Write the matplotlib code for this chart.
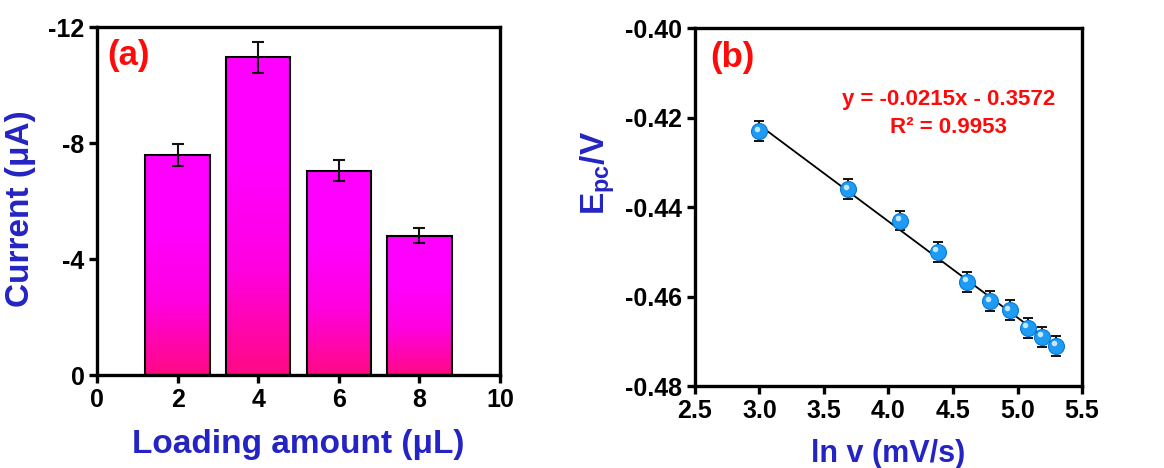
import numpy as np
import matplotlib
matplotlib.use("Agg")
import matplotlib.pyplot as plt
from matplotlib.colors import LinearSegmentedColormap
from matplotlib.transforms import offset_copy

plt.rcParams['font.family'] = ['Liberation Sans', 'DejaVu Sans']
plt.rcParams['font.weight'] = 'bold'
plt.rcParams['axes.unicode_minus'] = False
plt.rcParams['mathtext.fontset'] = 'custom'
plt.rcParams['mathtext.rm'] = 'Liberation Sans:bold'
plt.rcParams['mathtext.bf'] = 'Liberation Sans:bold'

# panel (a) data
loading = [2, 4, 6, 8]
current = [-7.6, -10.95, -7.05, -4.8]
current_err = [0.38, 0.55, 0.35, 0.26]

# panel (b) data
ln_v = [3.00, 3.69, 4.09, 4.38, 4.61, 4.79, 4.94, 5.08, 5.19, 5.30]
epc = [-0.4230, -0.4360, -0.4430, -0.4500, -0.4567, -0.4610, -0.4630, -0.4670, -0.4690, -0.4710]
epc_err = [0.0022] * 10
slope, intercept = -0.0215, -0.3572

blue = "#2424C4"
red = "#FF0A0A"

fig = plt.figure(figsize=(11.64, 4.68), dpi=100)
ax1 = fig.add_axes([0.0833, 0.1987, 0.3463, 0.7436])
ax2 = fig.add_axes([0.597, 0.175, 0.3326, 0.765])

def style(ax):
    for s in ax.spines.values():
        s.set_linewidth(2.4)
    ax.tick_params(direction='out', length=6, width=2.4, labelsize=18, pad=3)
    for lab in ax.get_xticklabels() + ax.get_yticklabels():
        lab.set_fontweight('bold')

# ---- (a) bars with gradient
cmap = LinearSegmentedColormap.from_list("pm", ["#FF0A84", "#FF00E0", "#FF00FF", "#FF00FF"])
grad = np.linspace(0, 1, 256).reshape(-1, 1)
w = 1.6
for x, v in zip(loading, current):
    bar = ax1.bar(x, v, width=w, facecolor='none', edgecolor='black', linewidth=1.5, zorder=3)[0]
    im = ax1.imshow(grad, cmap=cmap, extent=(x - w / 2, x + w / 2, 0, v), origin='lower',
                    aspect='auto', zorder=2)
    im.set_clip_path(bar)
ax1.errorbar(loading, current, yerr=current_err, fmt='none', ecolor='#111111',
             elinewidth=1.5, capsize=4, capthick=1.5, zorder=4)
ax1.set_xlim(0, 10)
ax1.set_ylim(0, -12)
ax1.set_xticks([0, 2, 4, 6, 8, 10])
ax1.set_yticks([0, -4, -8, -12])
style(ax1)
ax1.set_xlabel("Loading amount (μL)", color=blue, fontsize=24, fontweight='bold')
ax1.set_ylabel("Current (μA)", color=blue, fontsize=24, fontweight='bold')
ax1.xaxis.set_label_coords(0.5, -0.155)
ax1.yaxis.set_label_coords(-0.15, 0.477)
ax1.text(0.025, 0.965, "(a)", transform=ax1.transAxes, color=red, fontsize=25,
         fontweight='bold', ha='left', va='top')

# ---- (b) scatter + fit
xf = np.array([ln_v[0], ln_v[-1]])
ax2.plot(xf, slope * xf + intercept, color='black', lw=1.3, zorder=2)
ax2.errorbar(ln_v, epc, yerr=epc_err, fmt='none', ecolor='#111111',
             elinewidth=1.4, capsize=3.5, capthick=1.4, zorder=3)
ax2.plot(ln_v, epc, 'o', ms=11.5, color='#1E9BF2', mec='#0A78D8', mew=0.8, zorder=4)
tr = offset_copy(ax2.transData, fig=fig, x=-1.8, y=1.8, units='points')
ax2.plot(ln_v, epc, 'o', ms=4, color='white', alpha=0.75, mew=0, transform=tr, zorder=5)
ax2.set_xlim(2.5, 5.5)
ax2.set_ylim(-0.48, -0.40)
ax2.set_xticks(np.arange(2.5, 5.51, 0.5))
ax2.set_yticks([-0.48, -0.46, -0.44, -0.42, -0.40])
ax2.set_xticklabels([f"{t:.1f}" for t in np.arange(2.5, 5.51, 0.5)])
ax2.set_yticklabels([f"{t:.2f}" for t in [-0.48, -0.46, -0.44, -0.42, -0.40]])
style(ax2)
ax2.set_xlabel("ln v (mV/s)", color=blue, fontsize=22, fontweight='bold')
ax2.set_ylabel(r"$\mathbf{E_{pc}}$/V", color=blue, fontsize=24, fontweight='bold')
ax2.xaxis.set_label_coords(0.5, -0.148)
ax2.yaxis.set_label_coords(-0.2, 0.595)
ax2.text(0.04, 0.965, "(b)", transform=ax2.transAxes, color=red, fontsize=25,
         fontweight='bold', ha='left', va='top')
ax2.text(0.655, 0.762, "y = -0.0215x - 0.3572\nR² = 0.9953", transform=ax2.transAxes,
         color=red, fontsize=16, fontweight='bold', ha='center', va='center',
         multialignment='center', linespacing=1.45)

fig.savefig("out.png", dpi=100)
